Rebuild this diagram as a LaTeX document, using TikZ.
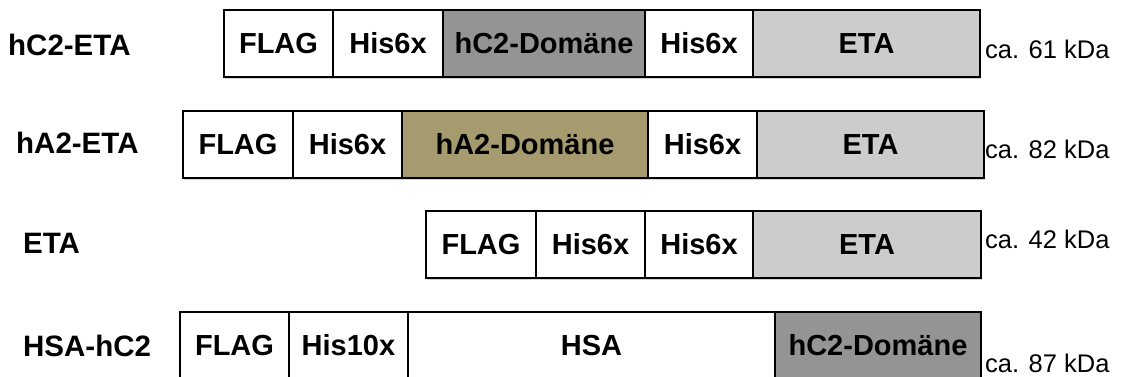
\documentclass[tikz,border=0pt]{standalone}
\usepackage{fontspec}
\setmainfont{Liberation Sans}
\usetikzlibrary{shadows}
\definecolor{domgray}{RGB}{148,148,148}
\definecolor{etagray}{RGB}{204,204,204}
\definecolor{olive}{RGB}{166,155,110}
\tikzset{
  seg/.style={draw=black, line width=1.4pt, inner sep=0pt, minimum height=67pt,
    text height=20.8pt, text depth=0pt, fill=white,
    font=\fontsize{29}{34}\selectfont\bfseries,
    drop shadow={shadow xshift=1pt, shadow yshift=-1.5pt, opacity=.35}},
  rowlabel/.style={anchor=base west, inner sep=0pt, font=\fontsize{29.5}{34}\selectfont\bfseries},
  kda/.style={anchor=base west, inner sep=0pt, font=\fontsize{25.5}{30}\selectfont}
}
\begin{document}
\begin{tikzpicture}[x=1pt,y=-1pt]
\clip (0,0) rectangle (1121,376);
\fill[white] (0,0) rectangle (1121,376);
% Row 1
\node[rowlabel] (l1) at (8,55) {hC2-ETA};
\node[seg, minimum width=109pt] (a1) at (278.5,43.5) {FLAG};
\node[seg, minimum width=110pt] (a2) at (388,43.5) {His6x};
\node[seg, minimum width=202pt, fill=domgray] (a3) at (544,43.5) {hC2-Domäne};
\node[seg, minimum width=108pt] (a4) at (699,43.5) {His6x};
\node[seg, minimum width=227pt, fill=etagray] (a5) at (866.5,43.5) {ETA};
\node[kda] (k1) at (985,58) {ca. 61 kDa};
% Row 2
\node[rowlabel] (l2) at (16,153) {hA2-ETA};
\node[seg, minimum width=110pt] (b1) at (238,144.5) {FLAG};
\node[seg, minimum width=109pt] (b2) at (347.5,144.5) {His6x};
\node[seg, minimum width=246pt, fill=olive] (b3) at (525,144.5) {hA2-Domäne};
\node[seg, minimum width=109pt] (b4) at (702.5,144.5) {His6x};
\node[seg, minimum width=227pt, fill=etagray] (b5) at (870.5,144.5) {ETA};
\node[kda] (k2) at (985,158) {ca. 82 kDa};
% Row 3
\node[rowlabel] (l3) at (23,253) {ETA};
\node[seg, minimum width=110pt] (c1) at (481,244.5) {FLAG};
\node[seg, minimum width=109pt] (c2) at (590.5,244.5) {His6x};
\node[seg, minimum width=108pt] (c3) at (699,244.5) {His6x};
\node[seg, minimum width=228pt, fill=etagray] (c4) at (867,244.5) {ETA};
\node[kda] (k3) at (985,248) {ca. 42 kDa};
% Row 4
\node[rowlabel] (l4) at (23,356) {HSA-hC2};
\node[seg, minimum width=109pt] (d1) at (234.5,345.5) {FLAG};
\node[seg, minimum width=119pt] (d2) at (348.5,345.5) {His10x};
\node[seg, minimum width=367pt] (d3) at (591.5,345.5) {HSA};
\node[seg, minimum width=206pt, fill=domgray] (d4) at (878,345.5) {hC2-Domäne};
\node[kda] (k4) at (985,372) {ca. 87 kDa};
\end{tikzpicture}
\end{document}
